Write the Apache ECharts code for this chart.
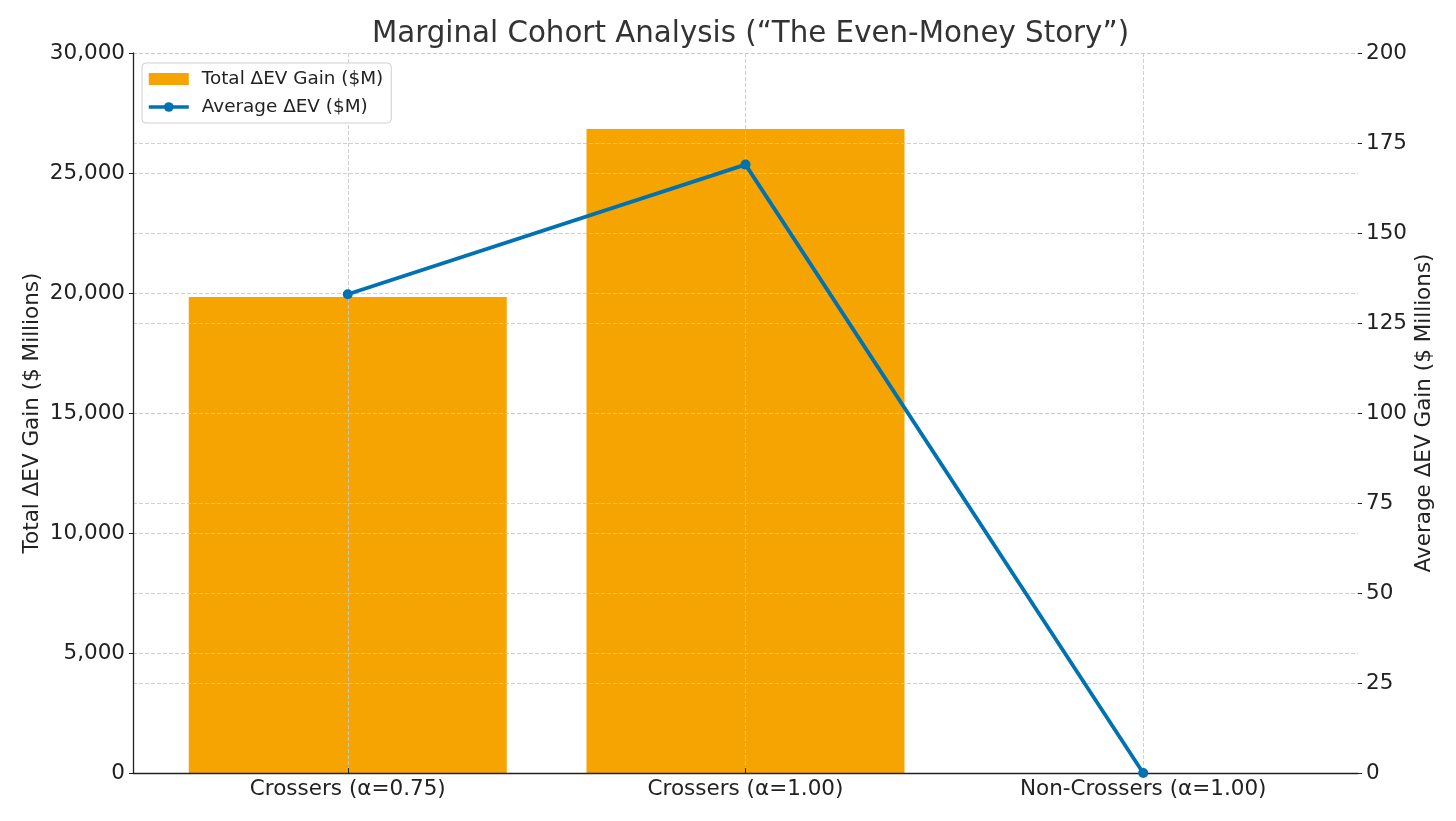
<!DOCTYPE html>
<html>
<head>
<meta charset="utf-8">
<script src="https://cdn.jsdelivr.net/npm/echarts@6/dist/echarts.min.js"></script>
<style>
  html, body { margin: 0; padding: 0; background: #fff; }
  #chart { width: 1456px; height: 821px; }
</style>
</head>
<body>
<div id="chart"></div>
<script>
// categories and values
const categories = ['Crossers (α=0.75)', 'Crossers (α=1.00)', 'Non-Crossers (α=1.00)']
const totalGain = [19830, 26830, 0]
const avgGain = [133, 169, 0]

const font = 'DejaVu Sans'
const blue = '#0072b2'
const gridLine = { show: true, lineStyle: { color: '#c9c9c9', type: [4, 2], width: 0.9 } }

const chart = echarts.init(document.getElementById('chart'))

chart.setOption({
  animation: false,
  textStyle: { fontFamily: font },
  title: {
    text: 'Marginal Cohort Analysis (“The Even-Money Story”)',
    left: 367,
    top: 15,
    textStyle: { fontFamily: font, fontSize: 29.3, fontWeight: 'normal', color: '#333' }
  },
  legend: {
    orient: 'vertical',
    left: 142,
    top: 63,
    padding: [7, 8, 7, 5],
    itemGap: 10,
    itemWidth: 40,
    itemHeight: 12,
    backgroundColor: '#fff',
    borderColor: '#cfcfcf',
    borderWidth: 1,
    borderRadius: 4,
    textStyle: { fontFamily: font, fontSize: 18.4, color: '#222', padding: [0, 0, 0, 8] },
    data: [
      { name: 'Total ΔEV Gain ($M)', icon: 'rect' },
      { name: 'Average ΔEV ($M)', lineStyle: { width: 3.6, color: blue } }
    ]
  },
  grid: { left: 133, right: 98, top: 53, bottom: 48 },
  xAxis: {
    type: 'value',
    min: -0.54,
    max: 2.54,
    z: 3,
    axisLine: { show: true, onZero: false, lineStyle: { color: '#222', width: 1.3 } },
    axisTick: { show: true, inside: true, length: 5, customValues: [0, 1, 2], lineStyle: { color: '#222' } },
    axisLabel: {
      customValues: [0, 1, 2],
      formatter: v => categories[Math.round(v)],
      fontFamily: font, fontSize: 21.5, color: '#222', margin: 5
    },
    splitLine: gridLine
  },
  yAxis: [
    {
      type: 'value',
      min: 0,
      max: 30000,
      interval: 5000,
      z: 3,
      name: 'Total ΔEV Gain ($ Millions)',
      nameLocation: 'middle',
      nameGap: 90,
      nameMoveOverlap: false,
      nameTextStyle: { fontFamily: font, fontSize: 21.5, color: '#222' },
      axisLine: { show: true, onZero: false, lineStyle: { color: '#222', width: 1.3 } },
      axisTick: { show: true, length: 4, lineStyle: { color: '#222' } },
      axisLabel: {
        formatter: v => v.toLocaleString('en-US'),
        fontFamily: font, fontSize: 21.5, color: '#222', margin: 8
      },
      splitLine: gridLine
    },
    {
      type: 'value',
      min: 0,
      max: 200,
      interval: 25,
      z: 3,
      name: 'Average ΔEV Gain ($ Millions)',
      nameLocation: 'middle',
      nameGap: 55,
      nameMoveOverlap: false,
      nameTextStyle: { fontFamily: font, fontSize: 21.5, color: '#222' },
      axisLine: { show: false, onZero: false },
      axisTick: { show: true, length: 4, lineStyle: { color: '#222' } },
      axisLabel: { fontFamily: font, fontSize: 21.5, color: '#222', margin: 8 },
      splitLine: gridLine
    }
  ],
  series: [
    {
      name: 'Total ΔEV Gain ($M)',
      type: 'bar',
      yAxisIndex: 0,
      barWidth: 318,
      z: 2,
      itemStyle: { color: '#f5a402' },
      data: categories.map((c, i) => [i, totalGain[i]])
    },
    {
      name: 'Average ΔEV ($M)',
      type: 'line',
      yAxisIndex: 1,
      z: 5,
      symbol: 'circle',
      symbolSize: 10,
      lineStyle: { color: blue, width: 3.8 },
      itemStyle: { color: blue },
      data: categories.map((c, i) => [i, avgGain[i]])
    }
  ]
})
</script>
</body>
</html>
